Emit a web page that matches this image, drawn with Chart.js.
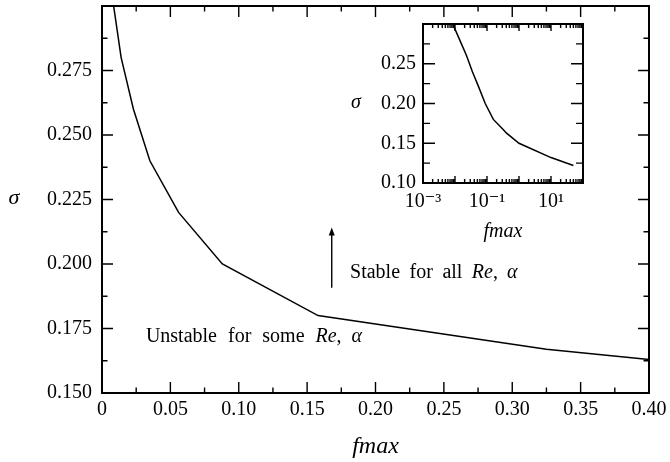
<!DOCTYPE html>
<html><head><meta charset="utf-8">
<script src="https://cdn.jsdelivr.net/npm/chart.js@4/dist/chart.umd.min.js"></script>
<style>
html,body{margin:0;padding:0;background:#fff;}
#wrap{position:relative;width:670px;height:462px;overflow:hidden;}
#main{position:absolute;left:0;top:0;}
#inset{position:absolute;left:340px;top:0;}
</style></head><body>
<div id="wrap"><canvas id="main" width="670" height="462"></canvas><canvas id="inset" width="260" height="250"></canvas></div>
<script>
// ---- data ----
const fMax   = [0.0085, 0.014, 0.023, 0.035, 0.056, 0.088, 0.158, 0.325, 0.40];
const sigma  = [0.300, 0.280, 0.260, 0.240, 0.220, 0.200, 0.180, 0.167, 0.163];
const fMaxExtra  = [1.0, 10, 50];          // only visible in the log inset
const sigmaExtra = [0.150, 0.132, 0.122];

// ---- tick labels ----
const mainXLabels  = ['0','0.05','0.10','0.15','0.20','0.25','0.30','0.35','0.40'];
const mainYLabels  = ['0.150','0.175','0.200','0.225','0.250','0.275'];
const insetYLabels = ['0.10','0.15','0.20','0.25'];
const insetXLabelValues = [0.001, 0.1, 10];
const insetXLabels = ['10\u207B\u00B3','10\u207B\u00B9','10\u00B9'];

const FONT = "'Liberation Serif','Times New Roman','DejaVu Serif',serif";

function linTicks(min, step, n){ const t=[]; for(let i=0;i<n;i++) t.push({value: Math.round((min+i*step)*1e6)/1e6}); return t; }
function logTicks(e0, e1){ const t=[]; for(let e=e0;e<e1;e++){ for(let m=1;m<10;m++) t.push({value: m*Math.pow(10,e)}); } t.push({value: Math.pow(10,e1)}); return t; }

function frameTicks(cfg){
  return { id:'frameTicks', afterDraw(chart){
    const {ctx, chartArea:a, scales:{x,y}} = chart;
    ctx.save();
    ctx.strokeStyle='#000'; ctx.lineWidth=1.4; ctx.lineCap='butt';
    ctx.beginPath();
    x.ticks.forEach((t,i)=>{
      const px = x.getPixelForValue(t.value);
      if (px < a.left+1 || px > a.right-1) return;
      const L = cfg.xMajor(t.value,i) ? cfg.xMaj : cfg.xMin;
      ctx.moveTo(px, a.bottom); ctx.lineTo(px, a.bottom-L);
      ctx.moveTo(px, a.top); ctx.lineTo(px, a.top+L);
    });
    y.ticks.forEach((t,i)=>{
      const py = y.getPixelForValue(t.value);
      if (py < a.top+1 || py > a.bottom-1) return;
      const L = cfg.yMajor(t.value,i) ? cfg.yMaj : cfg.yMin;
      ctx.moveTo(a.left, py); ctx.lineTo(a.left+L, py);
      ctx.moveTo(a.right, py); ctx.lineTo(a.right-L, py);
    });
    ctx.stroke();
    ctx.lineWidth=2;
    ctx.strokeRect(a.left, a.top, a.right-a.left, a.bottom-a.top);
    ctx.restore();
  }};
}

function drawRich(ctx, x, y, segs, size){
  let cx = x;
  segs.forEach(s=>{
    ctx.font = (s.i?'italic ':'') + size + 'px ' + FONT;
    ctx.fillText(s.t, cx, y);
    cx += ctx.measureText(s.t).width + (s.g||0);
  });
}

const mainDeco = { id:'mainDeco',
  beforeDraw(chart){ const c=chart.ctx; c.save(); c.fillStyle='#fff'; c.fillRect(0,0,chart.width,chart.height); c.restore(); },
  afterDraw(chart){
    const {ctx, chartArea:a, scales:{x,y}} = chart;
    ctx.save();
    ctx.fillStyle='#000'; ctx.strokeStyle='#000';
    ctx.textBaseline='middle'; ctx.textAlign='center';
    ctx.font = 'italic 22px ' + FONT;
    ctx.fillText('\u03C3', 14, (a.top+a.bottom)/2 - 1);
    ctx.textAlign='left';
    drawRich(ctx, x.getPixelForValue(0.0321), y.getPixelForValue(0.1718),
      [{t:'Unstable',g:11},{t:'for',g:11},{t:'some',g:11},{t:'Re',i:1},{t:',',g:10},{t:'\u03B1',i:1}], 20);
    drawRich(ctx, x.getPixelForValue(0.1814), y.getPixelForValue(0.1966),
      [{t:'Stable',g:9.5},{t:'for',g:9.5},{t:'all',g:9.5},{t:'Re',i:1},{t:',',g:9},{t:'\u03B1',i:1}], 20);
    // arrow
    const ax = x.getPixelForValue(0.168), y0 = y.getPixelForValue(0.1908), y1 = y.getPixelForValue(0.2141);
    ctx.lineWidth=1.4;
    ctx.beginPath(); ctx.moveTo(ax, y0); ctx.lineTo(ax, y1+6); ctx.stroke();
    ctx.beginPath(); ctx.moveTo(ax, y1); ctx.lineTo(ax-3, y1+8); ctx.lineTo(ax+3, y1+8); ctx.closePath(); ctx.fill();
    ctx.restore();
  }
};

new Chart(document.getElementById('main'), {
  type:'line',
  data:{ datasets:[{ data: fMax.map((f,i)=>({x:f, y:sigma[i]})), borderColor:'#000', borderWidth:1.5,
    pointRadius:0, tension:0, fill:false }]},
  options:{
    responsive:false, animation:false, devicePixelRatio:1,
    layout:{padding:{top:6, right:21, left:0, bottom:0}},
    plugins:{legend:{display:false}, tooltip:{enabled:false}},
    scales:{
      x:{ type:'linear', min:0, max:0.4,
        grid:{display:false, drawTicks:false}, border:{display:false},
        afterBuildTicks: s=>{ s.ticks = linTicks(0, 0.025, 17); },
        ticks:{ autoSkip:false, maxRotation:0, padding:5, color:'#000', font:{family:FONT, size:20, lineHeight:1.2},
          callback:(v,i)=> i%2===0 ? mainXLabels[i/2] : '' },
        title:{ display:true, text:'fmax', color:'#000', font:{family:FONT, size:24, style:'italic', lineHeight:1.2}, padding:{top:0, bottom:0.6} },
        afterFit: s=>{ s.height = 69; s.paddingLeft = 0; s.paddingRight = 0; }
      },
      y:{ type:'linear', min:0.15, max:0.30,
        grid:{display:false, drawTicks:false}, border:{display:false},
        afterBuildTicks: s=>{ s.ticks = linTicks(0.15, 0.0125, 13); },
        ticks:{ autoSkip:false, padding:10, color:'#000', font:{family:FONT, size:20, lineHeight:1.2},
          callback:(v,i)=> (i%2===0 && i/2 < mainYLabels.length) ? mainYLabels[i/2] : '' },
        afterFit: s=>{ s.width = 102; s.paddingTop = 0; s.paddingBottom = 0; }
      }
    }
  },
  plugins:[mainDeco, frameTicks({xMaj:11, xMin:5.5, yMaj:11, yMin:5.5,
    xMajor:(v,i)=> i%2===0, yMajor:(v,i)=> i%2===0 })]
});

const insetDeco = { id:'insetDeco',
  beforeDraw(chart){ const {ctx, chartArea:a}=chart; ctx.save(); ctx.fillStyle='#fff'; ctx.fillRect(a.left,a.top,a.right-a.left,a.bottom-a.top); ctx.restore(); },
  afterDraw(chart){
    const {ctx, chartArea:a} = chart;
    ctx.save(); ctx.fillStyle='#000'; ctx.textBaseline='middle'; ctx.textAlign='center';
    ctx.font = 'italic 20px ' + FONT;
    ctx.fillText('\u03C3', a.left-67, (a.top+a.bottom)/2 - 1);
    ctx.restore();
  }
};

const isDecade = v => Math.abs(Math.log10(v) - Math.round(Math.log10(v))) < 1e-9;

new Chart(document.getElementById('inset'), {
  type:'line',
  data:{ datasets:[{ data: fMax.concat(fMaxExtra).map((f,i)=>({x:f, y:sigma.concat(sigmaExtra)[i]})),
    borderColor:'#000', borderWidth:1.5, pointRadius:0, tension:0, fill:false }]},
  options:{
    responsive:false, animation:false, devicePixelRatio:1,
    layout:{padding:{top:24, right:17, left:0, bottom:0}},
    plugins:{legend:{display:false}, tooltip:{enabled:false}},
    scales:{
      x:{ type:'logarithmic', min:0.001, max:100,
        grid:{display:false, drawTicks:false}, border:{display:false},
        afterBuildTicks: s=>{ s.ticks = logTicks(-3, 2); },
        ticks:{ autoSkip:false, maxRotation:0, padding:6.5, color:'#000', font:{family:FONT, size:20, lineHeight:1.2},
          callback:(v)=>{ const k = insetXLabelValues.findIndex(u=>Math.abs(u-v)/u < 1e-6); return k>=0 ? insetXLabels[k] : ''; } },
        title:{ display:true, text:'fmax', color:'#000', font:{family:FONT, size:20, style:'italic', lineHeight:1.2}, padding:{top:0, bottom:6.4} },
        afterFit: s=>{ s.height = 67; s.paddingLeft = 0; s.paddingRight = 0; }
      },
      y:{ type:'linear', min:0.10, max:0.30,
        grid:{display:false, drawTicks:false}, border:{display:false},
        afterBuildTicks: s=>{ s.ticks = linTicks(0.10, 0.025, 9); },
        ticks:{ autoSkip:false, padding:7, color:'#000', font:{family:FONT, size:20, lineHeight:1.2},
          callback:(v,i)=> (i%2===0 && i/2 < insetYLabels.length) ? insetYLabels[i/2] : '' },
        afterFit: s=>{ s.width = 83; s.paddingTop = 0; s.paddingBottom = 0; }
      }
    }
  },
  plugins:[insetDeco, frameTicks({xMaj:7, xMin:4, yMaj:12, yMin:7,
    xMajor:(v)=> isDecade(v), yMajor:(v,i)=> i%2===0 })]
});
</script>
</body></html>
